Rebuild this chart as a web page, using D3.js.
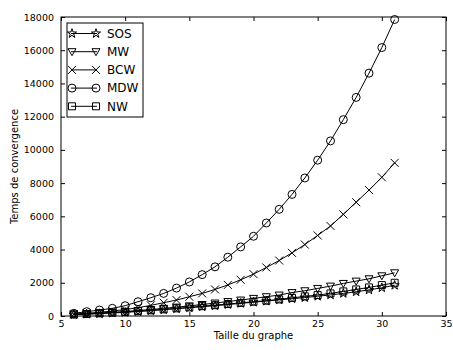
<!DOCTYPE html>
<html>
<head>
<meta charset="utf-8">
<script src="https://cdn.jsdelivr.net/npm/d3@7"></script>
<style>
  body { margin: 0; background: #fff; }
  text { font-family: "DejaVu Sans", sans-serif; }
</style>
</head>
<body>
<div id="wrapper"></div>
<script>
// 1. Data
const sizes = d3.range(6, 32)
const sos = [80, 110, 140, 180, 220, 270, 320, 380, 440, 500, 560, 620, 690, 760, 830, 900, 970, 1040, 1110, 1190, 1270, 1360, 1460, 1570, 1700, 1850]
const mw  = [110, 140, 180, 220, 270, 330, 390, 460, 530, 610, 690, 780, 870, 960, 1060, 1160, 1260, 1410, 1520, 1660, 1800, 1960, 2100, 2240, 2420, 2600]
const bcw = [110, 160, 220, 300, 390, 500, 640, 800, 960, 1160, 1360, 1600, 1870, 2180, 2520, 2920, 3340, 3800, 4300, 4850, 5420, 6120, 6850, 7580, 8350, 9220]
const mdw = [160, 260, 360, 460, 620, 860, 1100, 1360, 1680, 2050, 2490, 2960, 3540, 4160, 4800, 5600, 6420, 7320, 8310, 9380, 10540, 11820, 13160, 14620, 16160, 17850]
const nw  = [90, 120, 160, 200, 240, 290, 340, 400, 460, 520, 590, 650, 720, 790, 860, 920, 1000, 1090, 1180, 1260, 1360, 1480, 1600, 1720, 1860, 2000]

const seriesNames = ["SOS", "MW", "BCW", "MDW", "NW"]
const seriesValues = [sos, mw, bcw, mdw, nw]
const xTicks = [5, 10, 15, 20, 25, 30, 35]
const yTicks = d3.range(0, 18001, 2000)

// 2. Dimensions
const dimensions = {
  width: 453,
  height: 350,
  margin: { top: 17, right: 7, bottom: 34, left: 61 },
}
dimensions.boundedWidth = dimensions.width - dimensions.margin.left - dimensions.margin.right
dimensions.boundedHeight = dimensions.height - dimensions.margin.top - dimensions.margin.bottom

// 3. Canvas
const wrapper = d3.select("#wrapper")
  .append("svg")
    .attr("width", dimensions.width)
    .attr("height", dimensions.height)

const bounds = wrapper.append("g")
    .attr("transform", `translate(${dimensions.margin.left},${dimensions.margin.top})`)

// 4. Scales
const xScale = d3.scaleLinear()
  .domain([5, 35])
  .range([0, dimensions.boundedWidth])

const yScale = d3.scaleLinear()
  .domain([0, 18000])
  .range([dimensions.boundedHeight, 0])

// markers
const markerPaths = {
  SOS: d3.symbol(d3.symbolStar, 26)(),
  MW: "M-4,-3L4,-3L0,4Z",
  BCW: "M-4,-4L4,4M-4,4L4,-4",
  MDW: "M4,0A4,4 0 1,1 -4,0A4,4 0 1,1 4,0Z",
  NW: "M-3.5,-3.5L3.5,-3.5L3.5,3.5L-3.5,3.5Z",
}

// 5. Draw data
const lineGen = d3.line()
  .x((d, i) => xScale(sizes[i]))
  .y(d => yScale(d))

seriesNames.forEach((name, k) => {
  const values = seriesValues[k]
  const g = bounds.append("g")
  g.append("path")
      .attr("d", lineGen(values))
      .attr("fill", "none")
      .attr("stroke", "black")
      .attr("stroke-width", 1)
  g.selectAll("path.marker")
    .data(values)
    .enter().append("path")
      .attr("class", "marker")
      .attr("d", markerPaths[name])
      .attr("transform", (d, i) => `translate(${xScale(sizes[i])},${yScale(d)})`)
      .attr("fill", "none")
      .attr("stroke", "black")
      .attr("stroke-width", 1)
})

// 6. Peripherals
const styleAxis = (sel) => {
  sel.select(".domain").remove()
  sel.selectAll(".tick line").attr("stroke", "black")
  sel.selectAll(".tick text")
    .attr("fill", "black")
    .style("font-size", "9.5px")
    .style("font-family", "DejaVu Sans, sans-serif")
}

bounds.append("g")
  .attr("transform", `translate(0,${dimensions.boundedHeight})`)
  .call(d3.axisBottom(xScale).tickValues(xTicks).tickSizeInner(-4).tickSizeOuter(0).tickPadding(4).tickFormat(d3.format("d")))
  .call(styleAxis)

bounds.append("g")
  .call(d3.axisTop(xScale).tickValues(xTicks).tickSizeInner(-4).tickSizeOuter(0).tickFormat(""))
  .call(styleAxis)

bounds.append("g")
  .call(d3.axisLeft(yScale).tickValues(yTicks).tickSizeInner(-4).tickSizeOuter(0).tickPadding(7).tickFormat(d3.format("d")))
  .call(styleAxis)

bounds.append("g")
  .attr("transform", `translate(${dimensions.boundedWidth},0)`)
  .call(d3.axisRight(yScale).tickValues(yTicks).tickSizeInner(-4).tickSizeOuter(0).tickFormat(""))
  .call(styleAxis)

bounds.append("rect")
    .attr("width", dimensions.boundedWidth)
    .attr("height", dimensions.boundedHeight)
    .attr("fill", "none")
    .attr("stroke", "black")
    .attr("stroke-width", 1)

wrapper.append("text")
    .attr("x", dimensions.margin.left + dimensions.boundedWidth / 2)
    .attr("y", dimensions.height - 11)
    .attr("text-anchor", "middle")
    .style("font-size", "10px")
    .text("Taille du graphe")

wrapper.append("text")
    .attr("transform", `translate(18,${dimensions.margin.top + dimensions.boundedHeight / 2}) rotate(-90)`)
    .attr("text-anchor", "middle")
    .style("font-size", "10px")
    .text("Temps de convergence")

// legend
const legend = bounds.append("g")
    .attr("transform", "translate(6,6)")

legend.append("rect")
    .attr("width", 76)
    .attr("height", 94)
    .attr("fill", "white")
    .attr("stroke", "black")
    .attr("stroke-width", 1)

seriesNames.forEach((name, k) => {
  const y = 10.5 + k * 18.2
  const item = legend.append("g").attr("transform", `translate(0,${y})`)
  item.append("line")
      .attr("x1", 4).attr("x2", 30)
      .attr("stroke", "black")
  ;[5, 29].forEach(x => {
    item.append("path")
        .attr("d", markerPaths[name])
        .attr("transform", `translate(${x},0)`)
        .attr("fill", "none")
        .attr("stroke", "black")
  })
  item.append("text")
      .attr("x", 40)
      .attr("dy", "0.36em")
      .style("font-size", "12px")
      .text(name)
})
</script>
</body>
</html>
